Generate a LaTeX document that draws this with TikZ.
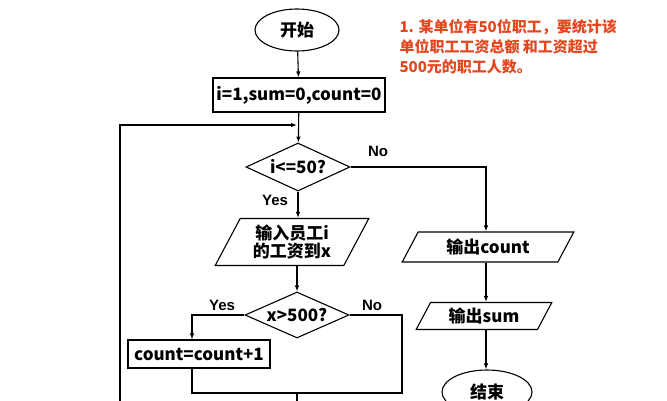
\documentclass[tikz,border=0pt]{standalone}
\usepackage{fontspec}
\setmainfont{Liberation Sans}
\newfontfamily\cjk{Noto Sans CJK SC}
\usetikzlibrary{shapes.geometric,arrows.meta}
\definecolor{qred}{RGB}{228,70,30}
\begin{document}
\begin{tikzpicture}[x=1pt,y=-1pt,
  every node/.style={font=\cjk\fontsize{17}{19}\selectfont\bfseries},
  ln/.style={line width=1.1pt},
  ar/.style={ln,-{Latex[length=6pt,width=4.5pt]}},
  term/.style={ellipse,draw,ln,minimum width=84pt,minimum height=42pt,inner sep=0pt},
  proc/.style={rectangle,draw,ln,inner sep=1pt},
  dec/.style={diamond,draw,ln,aspect=2.2,inner sep=0pt},
  io/.style={trapezium,trapezium left angle=62,trapezium right angle=118,draw,ln,inner sep=1pt},
  lab/.style={font=\fontsize{15}{17}\selectfont\bfseries}]
\useasboundingbox (0,0) rectangle (667,400);
\clip (0,0) rectangle (667,400);
\node[term] (start) at (297,30) {开始};
\node[proc,minimum width=172pt,minimum height=34pt] (init) at (299,95) {i=1,sum=0,count=0};
\coordinate (top) at (297,125);
\node[dec,minimum width=104pt,minimum height=48pt] (d1) at (298,167) {i<=50?};
\node[io,minimum width=112pt,minimum height=47pt,align=center] (in) at (292,242) {输入员工i\\[-1pt]的工资到x};
\node[dec,minimum width=104pt,minimum height=46pt] (d2) at (297,315) {x>500?};
\node[proc,minimum width=142pt,minimum height=28pt] (cnt) at (199,354) {count=count+1};
\node[io,minimum width=112pt,minimum height=30pt] (oc) at (488,247) {输出count};
\node[io,minimum width=92pt,minimum height=27pt] (os) at (484,316) {输出sum};
\node[term,minimum width=90pt,minimum height=44pt] (end) at (487,392) {结束};
\node[font=\cjk\fontsize{15}{20}\selectfont\bfseries,text=qred,align=left,anchor=north west] (q) at (396,16)
 {1. 某单位有50位职工，要统计该\\单位职工工资总额 和工资超过\\500元的职工人数。};
\coordinate (m) at (297,393);
\coordinate (bot) at (297,402);
\coordinate (lb) at (120,402);
\draw[ar] (start) -- (init);
\draw[ar] (init) -- (d1);
\draw[ar] (lb) |- (top);
\draw[ar] (d1) -- (d1 |- in.north);
\draw[ar] (in.south -| d2) -- (d2);
\draw[ar] (d1.east) -| (oc.north -| 486,0);
\draw[ar] (oc.south -| 486,0) -- (os.north -| 486,0);
\draw[ar] (os.south -| 486,0) -- (end.north -| 486,0);
\draw[ar] (d2.west) -| (cnt.north -| 192,0);
\draw[ln] (cnt.south -| 192,0) |- (m);
\draw[ln] (d2.east) -| (402,393) -- (m);
\draw[ln] (m) -- (bot);
\node[lab] (no1) at (378,151) {No};
\node[lab] (yes1) at (275,200) {Yes};
\node[lab] (yes2) at (222,305) {Yes};
\node[lab] (no2) at (372,305) {No};
\end{tikzpicture}
\end{document}
